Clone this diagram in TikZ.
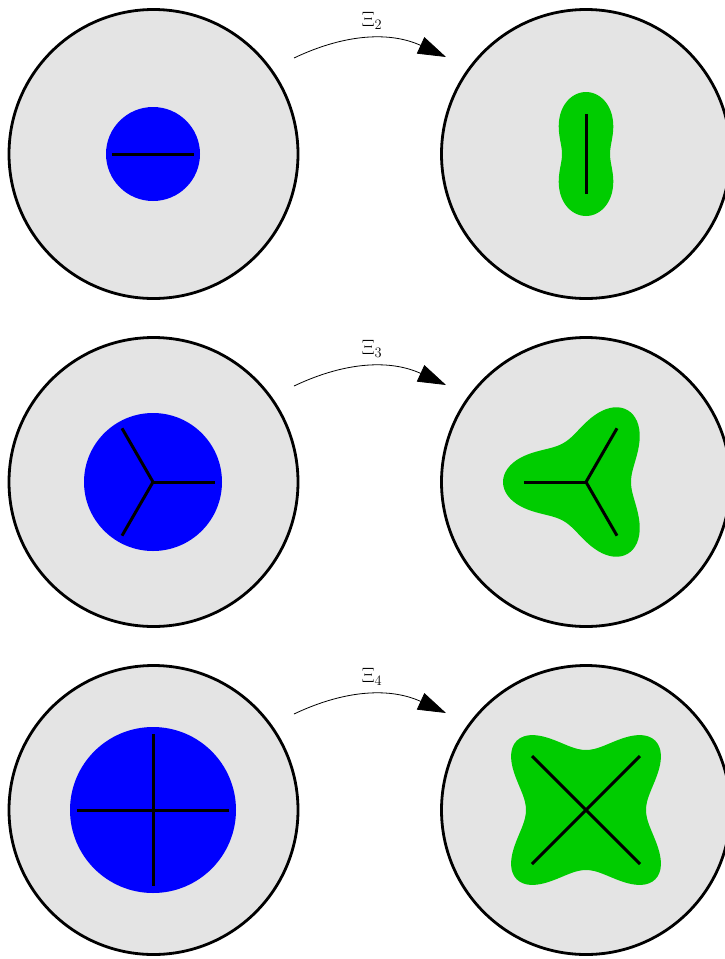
\documentclass[tikz,border=0pt]{standalone}
\usetikzlibrary{arrows.meta,calc}
\definecolor{bg}{HTML}{E4E4E4}
\definecolor{gr}{HTML}{00CC00}
\begin{document}
\begin{tikzpicture}[x=1pt,y=-1pt,
  disc/.style={circle,draw=black,line width=2.8pt,fill=bg,minimum size=289pt,inner sep=0pt},
  seg/.style={line width=3pt,line cap=butt,line join=miter},
  map/.style={line width=0.8pt,-{Triangle[length=28pt,width=18pt]}},
  lab/.style={font=\huge,inner sep=0pt}]
\useasboundingbox (0,0) rectangle (725,959);

% ---------- row 1 ----------
\node[disc] (L1) at (153.5,154) {};
\node[disc] (R1) at (586,154) {};
\fill[blue] (153,154) circle[radius=47];
\begin{scope}[shift={(586,154)},rotate=90]
\fill[gr] plot[smooth cycle,domain=0:357,samples=120,variable=\t]
  ({43*cos(\t)+12*cos(\t)+7*cos(3*\t)},{43*sin(\t)-12*sin(\t)+7*sin(3*\t)});
\end{scope}
\draw[seg] (112,154) -- (194,154);
\draw[seg] (586,114) -- (586,194);
\coordinate (s1) at (294,58);
\coordinate (e1) at (446,57);
\draw[map] (s1) to[bend left=25] (e1);
\node[lab] (x1) at (372,21) {$\Xi_2$};

% ---------- row 2 ----------
\node[disc] (L2) at (153.5,482) {};
\node[disc] (R2) at (586,482) {};
\fill[blue] (153,482) circle[radius=69];
\begin{scope}[shift={(586,482)},rotate=180]
\fill[gr] plot[smooth cycle,domain=0:357,samples=120,variable=\t]
  ({64*cos(\t)+12*cos(2*\t)+7*cos(4*\t)},{64*sin(\t)-12*sin(2*\t)+7*sin(4*\t)});
\end{scope}
\coordinate (c2) at (153,482);
\draw[seg] (c2) -- ++(0:62);
\draw[seg] ($(c2)+(120:62)$) -- (c2) -- ++(240:62);
\coordinate (d2) at (586,482);
\draw[seg] (d2) -- ++(180:62);
\draw[seg] ($(d2)+(60:62)$) -- (d2) -- ++(300:62);
\coordinate (s2) at (294,386);
\coordinate (e2) at (446,385);
\draw[map] (s2) to[bend left=25] (e2);
\node[lab] (x2) at (372,349) {$\Xi_3$};

% ---------- row 3 ----------
\node[disc] (L3) at (153.5,810) {};
\node[disc] (R3) at (586,810) {};
\fill[blue] (153,810) circle[radius=83];
\begin{scope}[shift={(586,810)},rotate=45]
\fill[gr] plot[smooth cycle,domain=0:357,samples=120,variable=\t]
  ({79*cos(\t)+12*cos(3*\t)+7*cos(5*\t)},{79*sin(\t)-12*sin(3*\t)+7*sin(5*\t)});
\end{scope}
\draw[seg] (153,734) -- (153,886);
\draw[seg] (77,810) -- (229,810);
\draw[seg] (532,756) -- (640,864);
\draw[seg] (532,864) -- (640,756);
\coordinate (s3) at (294,714);
\coordinate (e3) at (446,713);
\draw[map] (s3) to[bend left=25] (e3);
\node[lab] (x3) at (372,677) {$\Xi_4$};
\end{tikzpicture}
\end{document}
